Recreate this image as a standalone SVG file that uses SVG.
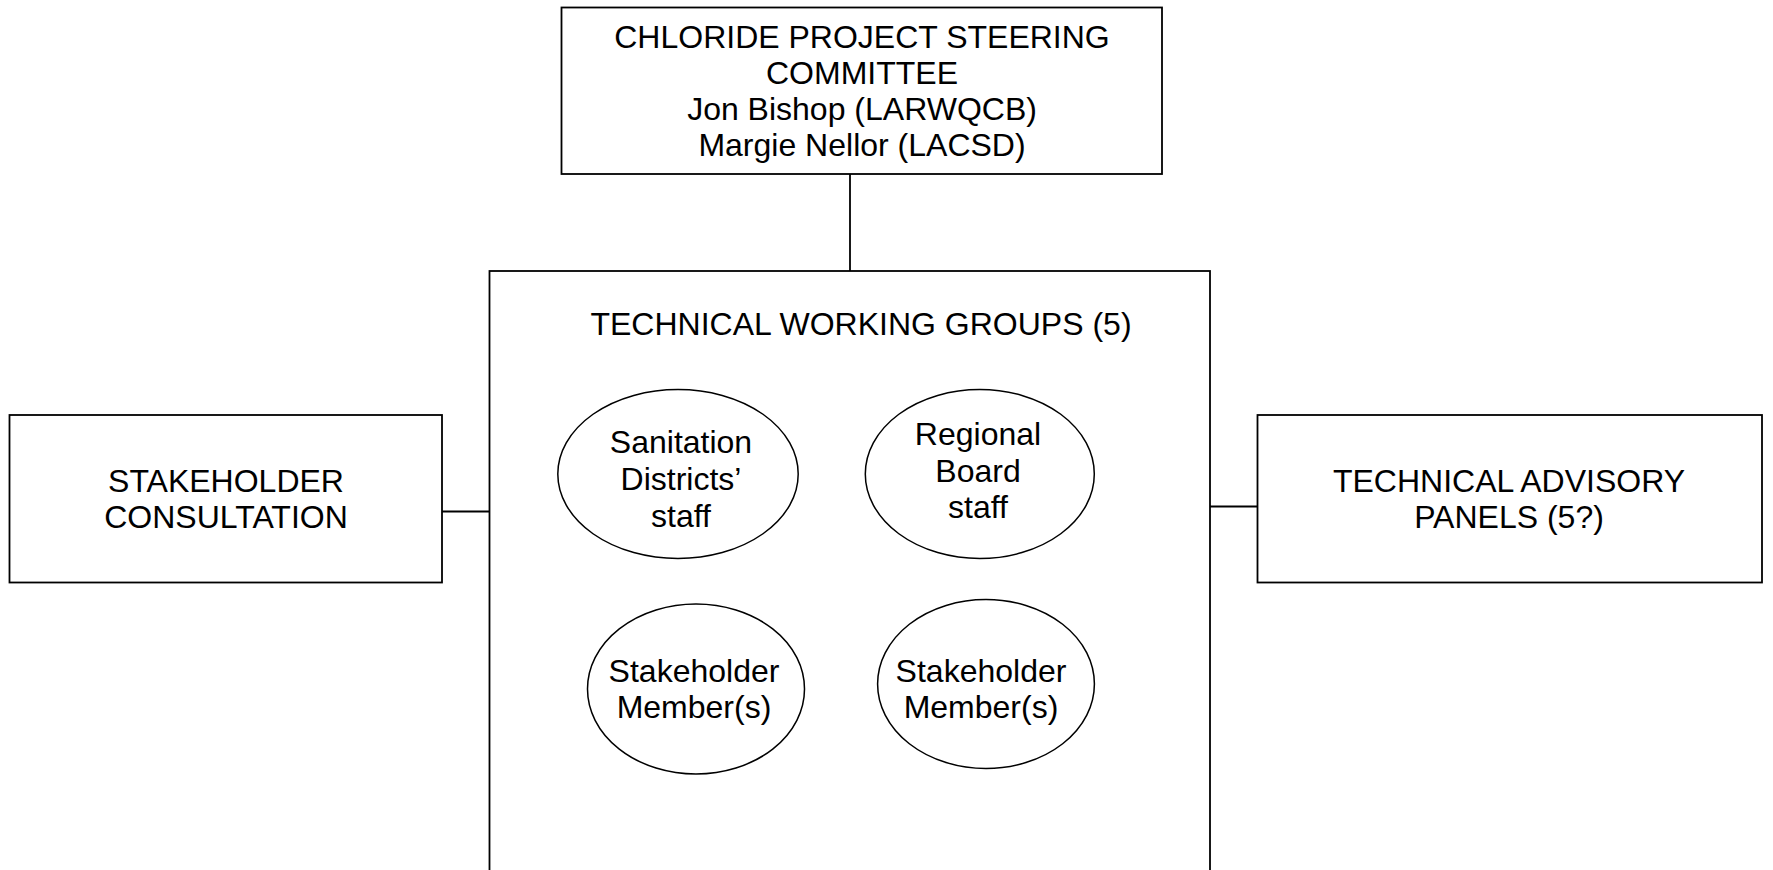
<svg xmlns="http://www.w3.org/2000/svg" width="1773" height="870" viewBox="0 0 1773 870">
  <style>
    .box { fill: #ffffff; stroke: #000000; stroke-width: 1.8; }
    .oval { fill: #ffffff; stroke: #000000; stroke-width: 1.5; }
    .link { fill: none; stroke: #000000; stroke-width: 1.8; }
    text { font-family: "Liberation Sans", Arial, sans-serif; font-size: 32px; fill: #000000; text-anchor: middle; }
  </style>
  <rect width="1773" height="870" fill="#ffffff"/>

  <!-- connectors -->
  <g id="connectors">
    <line class="link" x1="850" y1="174" x2="850" y2="271"/>
    <line class="link" x1="442" y1="511.5" x2="489.5" y2="511.5"/>
    <line class="link" x1="1210" y1="506.5" x2="1257.5" y2="506.5"/>
  </g>

  <!-- steering committee -->
  <g id="steering-committee">
    <rect class="box" x="561.5" y="7.5" width="600.5" height="166.5"/>
    <text x="862" y="47.5">CHLORIDE PROJECT STEERING</text>
    <text x="862" y="83.8">COMMITTEE</text>
    <text x="862" y="120.1">Jon Bishop (LARWQCB)</text>
    <text x="862" y="156.4">Margie Nellor (LACSD)</text>
  </g>

  <!-- technical working groups container -->
  <g id="technical-working-groups">
    <rect class="box" x="489.5" y="271" width="720.5" height="640"/>
    <text x="861" y="335">TECHNICAL WORKING GROUPS (5)</text>
  </g>

  <g id="sanitation-staff">
    <ellipse class="oval" cx="678" cy="474" rx="120.2" ry="84.5"/>
    <text x="681" y="453.3">Sanitation</text>
    <text x="681" y="490">Districts’</text>
    <text x="681" y="526.7">staff</text>
  </g>

  <g id="regional-board-staff">
    <ellipse class="oval" cx="979.8" cy="474" rx="114.5" ry="84.5"/>
    <text x="978" y="445">Regional</text>
    <text x="978" y="481.7">Board</text>
    <text x="978" y="518.3">staff</text>
  </g>

  <g id="stakeholder-members-1">
    <ellipse class="oval" cx="696" cy="689" rx="108.5" ry="85"/>
    <text x="694" y="681.7">Stakeholder</text>
    <text x="694" y="718.3">Member(s)</text>
  </g>

  <g id="stakeholder-members-2">
    <ellipse class="oval" cx="986" cy="684" rx="108.4" ry="84.5"/>
    <text x="981" y="681.7">Stakeholder</text>
    <text x="981" y="718.3">Member(s)</text>
  </g>

  <!-- stakeholder consultation -->
  <g id="stakeholder-consultation">
    <rect class="box" x="9.5" y="415" width="432.5" height="167.5"/>
    <text x="226" y="491.7">STAKEHOLDER</text>
    <text x="226" y="528.3">CONSULTATION</text>
  </g>

  <!-- technical advisory panels -->
  <g id="technical-advisory-panels">
    <rect class="box" x="1257.5" y="415" width="504.5" height="167.5"/>
    <text x="1509" y="491.7">TECHNICAL ADVISORY</text>
    <text x="1509" y="528.3">PANELS (5?)</text>
  </g>
</svg>
